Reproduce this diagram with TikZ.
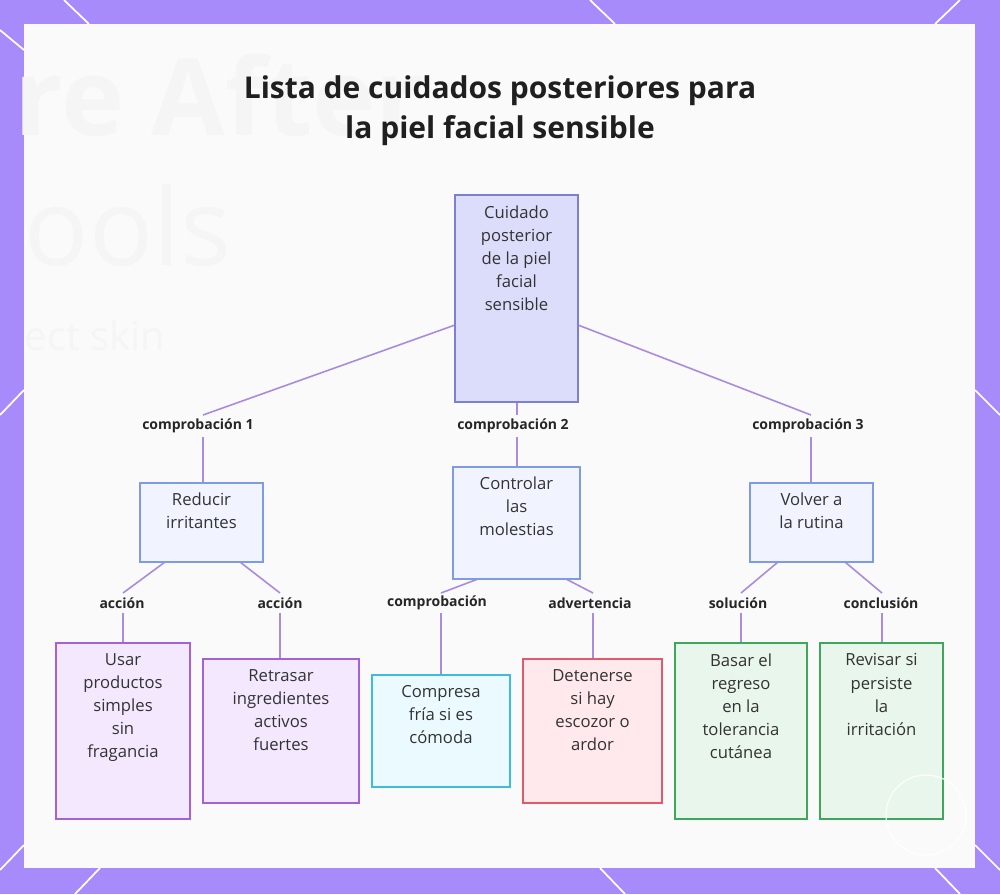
\documentclass[tikz,border=0pt]{standalone}
\usepackage{fontspec}
\setmainfont{Open Sans}
\begin{document}
\begin{tikzpicture}[x=0.75pt,y=-0.75pt,
 conn/.style={draw=cline,line width=1.2pt},
 lab/.style={font=\bfseries\fontsize{10.5}{12}\selectfont,text=black!85},
 box/.style={draw=#1,line width=1.2pt,inner sep=0pt},
 txt/.style={align=center,font=\fontsize{12.5}{17.3}\selectfont,text=black!80,anchor=north}]
\definecolor{bgp}{HTML}{A78BFA}
\definecolor{cline}{HTML}{A98BE0}
\useasboundingbox (0,0) rectangle (1000,894);
\fill[bgp] (0,0) rectangle (1000,894);
\foreach \a/\b/\c/\d in {64/0/89/24, 590/0/615/24, 935/24/960/0, 0/415/24/390, 975/390/1000/415, 0/870/24/845, 75/894/100/868, 600/868/625/894, 935/868/960/894, 975/845/1000/870, 0/30/24/50}
 \draw[white,line width=1.3pt] (\a,\b)--(\c,\d);
\fill[white!98!black] (24,24) rectangle (975,868);
\node[anchor=west,text=black!4,font=\bfseries\fontsize{80}{80}\selectfont] (g1) at (10,95) {re After};
\node[anchor=west,text=black!4,font=\fontsize{80}{80}\selectfont] (g2) at (20,225) {ools};
\node[anchor=west,text=black!4,font=\fontsize{30}{30}\selectfont] (g3) at (20,335) {ect skin};
\node[font=\bfseries\fontsize{22.5}{30}\selectfont,align=center,text=black!88] (title) at (500,111) {Lista de cuidados posteriores para\\la piel facial sensible};
\definecolor{rf}{HTML}{DCDDFB}\definecolor{rb}{HTML}{7B80D4}
\definecolor{mf}{HTML}{F1F4FF}\definecolor{mb}{HTML}{7E9CE3}
\definecolor{pf}{HTML}{F3E8FD}\definecolor{pb}{HTML}{A561D8}
\definecolor{cf}{HTML}{EAFAFE}\definecolor{cb}{HTML}{40BCD8}
\definecolor{ef}{HTML}{FFE9EC}\definecolor{eb}{HTML}{E05A6A}
\definecolor{gf}{HTML}{E8F6EB}\definecolor{gb}{HTML}{3DA85A}
\draw[conn] (455,325) -- (203,415) (203,437) -- (203,483);
\draw[conn] (517,402) -- (517,415) (517,437) -- (517,467);
\draw[conn] (578,325) -- (811,415) (811,437) -- (811,483);
\draw[conn] (165,562) -- (123,593) (123,613) -- (123,643);
\draw[conn] (240,562) -- (280,593) (280,613) -- (280,659);
\draw[conn] (478,579) -- (441,593) (441,613) -- (441,675);
\draw[conn] (566,579) -- (593,593) (593,613) -- (593,659);
\draw[conn] (778,562) -- (741,593) (741,613) -- (741,643);
\draw[conn] (845,562) -- (882,593) (882,613) -- (882,643);
\node[lab] (c1) at (198,426) {comprobación 1};
\node[lab] (c2) at (513,426) {comprobación 2};
\node[lab] (c3) at (808,426) {comprobación 3};
\node[lab] (a1) at (122,603) {acción};
\node[lab] (a2) at (280,603) {acción};
\node[lab] (a3) at (437,603) {comprobación};
\node[lab] (a4) at (590,603) {advertencia};
\node[lab] (a5) at (738,603) {solución};
\node[lab] (a6) at (881,603) {conclusión};
\filldraw[box=rb,fill=rf] (455,195) rectangle (578,402);
\node[txt] (root) at (516.5,201) {Cuidado\\posterior\\de la piel\\facial\\sensible};
\filldraw[box=mb,fill=mf] (140,483) rectangle (263,562);
\node[txt] (n1) at (201.5,488) {Reducir\\irritantes};
\filldraw[box=mb,fill=mf] (453,467) rectangle (580,579);
\node[txt] (n2) at (516.5,472) {Controlar\\las\\molestias};
\filldraw[box=mb,fill=mf] (750,483) rectangle (873,562);
\node[txt] (n3) at (811.5,488) {Volver a\\la rutina};
\filldraw[box=pb,fill=pf] (56,643) rectangle (190,819);
\node[txt] (k1) at (123,649) {Usar\\productos\\simples\\sin\\fragancia};
\filldraw[box=pb,fill=pf] (203,659) rectangle (359,803);
\node[txt] (k2) at (281,665) {Retrasar\\ingredientes\\activos\\fuertes};
\filldraw[box=cb,fill=cf] (372,675) rectangle (510,787);
\node[txt] (k3) at (441,681) {Compresa\\fría si es\\cómoda};
\filldraw[box=eb,fill=ef] (523,659) rectangle (662,803);
\node[txt] (k4) at (592.5,665) {Detenerse\\si hay\\escozor o\\ardor};
\filldraw[box=gb,fill=gf] (675,643) rectangle (807,819);
\node[txt] (k5) at (741,649) {Basar el\\regreso\\en la\\tolerancia\\cutánea};
\filldraw[box=gb,fill=gf] (820,643) rectangle (943,819);
\node[txt] (k6) at (881.5,649) {Revisar si\\persiste\\la\\irritación};
\draw[white,line width=1pt,opacity=0.8] (926,815) circle (40);
\end{tikzpicture}
\end{document}
